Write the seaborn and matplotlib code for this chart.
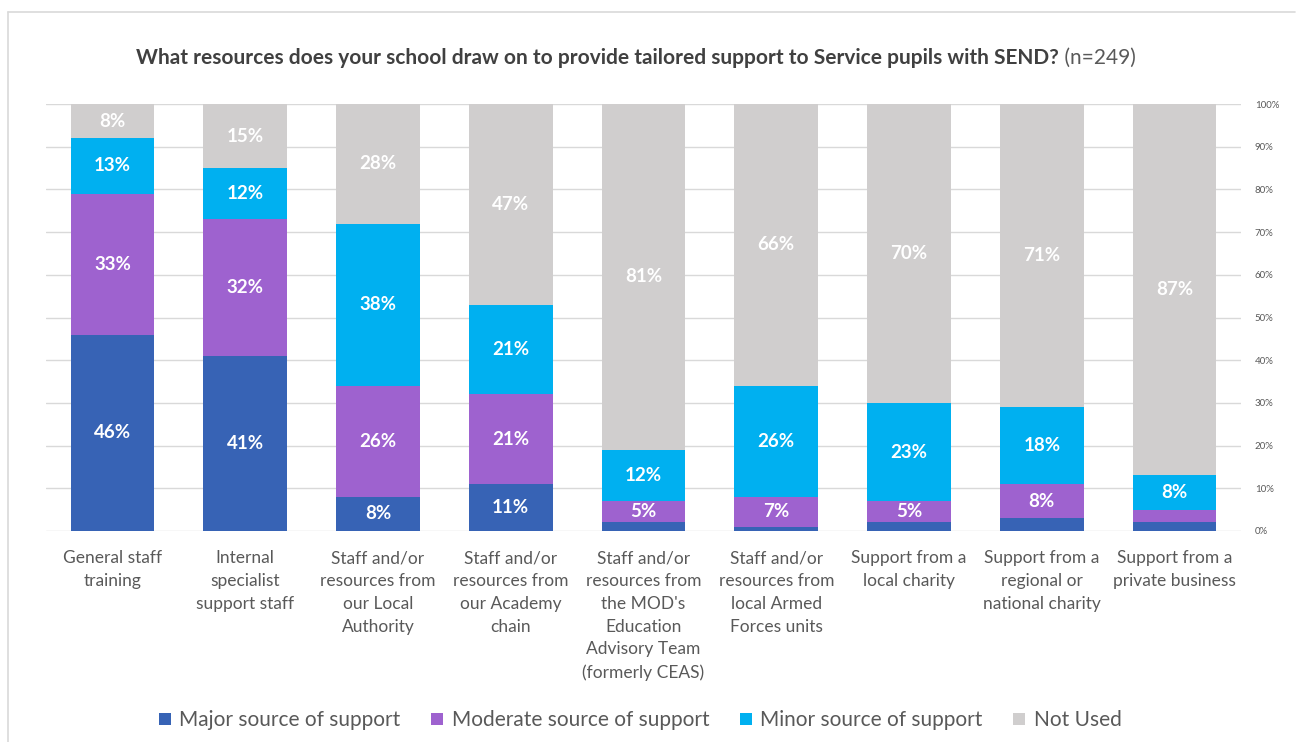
import matplotlib
matplotlib.use("Agg")
import matplotlib.pyplot as plt
from matplotlib.lines import Line2D
import numpy as np
import pandas as pd
import seaborn as sns

categories = [
    "General staff\ntraining",
    "Internal\nspecialist\nsupport staff",
    "Staff and/or\nresources from\nour Local\nAuthority",
    "Staff and/or\nresources from\nour Academy\nchain",
    "Staff and/or\nresources from\nthe MOD's\nEducation\nAdvisory Team\n(formerly CEAS)",
    "Staff and/or\nresources from\nlocal Armed\nForces units",
    "Support from a\nlocal charity",
    "Support from a\nregional or\nnational charity",
    "Support from a\nprivate business",
]
major = [46, 41, 8, 11, 2, 1, 2, 3, 2]
moderate = [33, 32, 26, 21, 5, 7, 5, 8, 3]
minor = [13, 12, 38, 21, 12, 26, 23, 18, 8]
not_used = [8, 15, 28, 47, 81, 66, 70, 71, 87]

series_names = ["Major source of support", "Moderate source of support",
                "Minor source of support", "Not Used"]
series_values = [major, moderate, minor, not_used]
colors = ["#3763B5", "#9E62CF", "#00B0F0", "#D0CECE"]

title_bold = "What resources does your school draw on to provide tailored support to Service pupils with SEND?"
title_rest = " (n=249)"

sns.set_theme(style="white")
plt.rcParams["font.family"] = ["Lato", "DejaVu Sans"]

W, H = 1296, 742
fig = plt.figure(figsize=(W / 100, H / 100), dpi=100)
ax = fig.add_axes([46 / W, 1 - 531 / H, (1241 - 46) / W, (531 - 104) / H])

df = pd.DataFrame({"category": categories})
bottom = np.zeros(len(categories))
for vals, col in zip(series_values, colors):
    df["value"] = vals
    sns.barplot(data=df, x="category", y="value", color=col, width=0.63,
                bottom=bottom.copy(), saturation=1, ax=ax,
                linewidth=0, zorder=3)
    bottom += np.array(vals, dtype=float)

for cont, vals in zip(ax.containers, series_values):
    labels = [f"{v}%" if v >= 4 else "" for v in vals]
    ax.bar_label(cont, labels=labels, label_type="center", color="white",
                 fontsize=13.5, fontweight="bold")

ax.set_xlim(-0.5, len(categories) - 0.5)
ax.set_ylim(0, 100)
ax.set_yticks(np.arange(0, 101, 10))
ax.set_yticklabels([f"{t}%" for t in range(0, 101, 10)])
ax.yaxis.tick_right()
ax.tick_params(axis="y", labelsize=7, colors="#595959", length=0, pad=10)
ax.tick_params(axis="x", labelsize=12.5, colors="#595959", length=0, pad=14)
for lab in ax.get_xticklabels():
    lab.set_linespacing(1.52)
    lab.set_verticalalignment("top")
ax.set_xlabel("")
ax.set_ylabel("")
ax.grid(axis="y", color="#D9D9D9", linewidth=1, zorder=0)
for s in ax.spines.values():
    s.set_visible(False)

handles = [Line2D([], [], marker="s", linestyle="", markersize=9,
                  markerfacecolor=c, markeredgewidth=0) for c in colors]
fig.legend(handles, series_names, loc="center", bbox_to_anchor=(639 / W, 1 - 720 / H),
           ncol=4, frameon=False, fontsize=15, labelcolor="#595959",
           handletextpad=0.3, columnspacing=1.35, handlelength=0.8)

# title: bold question followed by a regular sample size
ty = 1 - 58 / H
t1 = fig.text(0, ty, title_bold, fontsize=15, fontweight="bold", color="#404040",
              va="center", ha="left")
t2 = fig.text(0, ty, title_rest, fontsize=15, color="#595959", va="center", ha="left")
fig.canvas.draw()
r = fig.canvas.get_renderer()
w1 = t1.get_window_extent(r).width
w2 = t2.get_window_extent(r).width
x0 = 636 - (w1 + w2) / 2
t1.set_x(x0 / W)
t2.set_x((x0 + w1) / W)

# outer chart frame
fig.add_artist(Line2D([7.5 / W, 7.5 / W], [0, 1 - 12 / H], transform=fig.transFigure,
                      color="#D9D9D9", linewidth=1.2))
fig.add_artist(Line2D([7.5 / W, 1295 / W], [1 - 12 / H, 1 - 12 / H], transform=fig.transFigure,
                      color="#D9D9D9", linewidth=1.2))

fig.savefig("out.png", dpi=100)
